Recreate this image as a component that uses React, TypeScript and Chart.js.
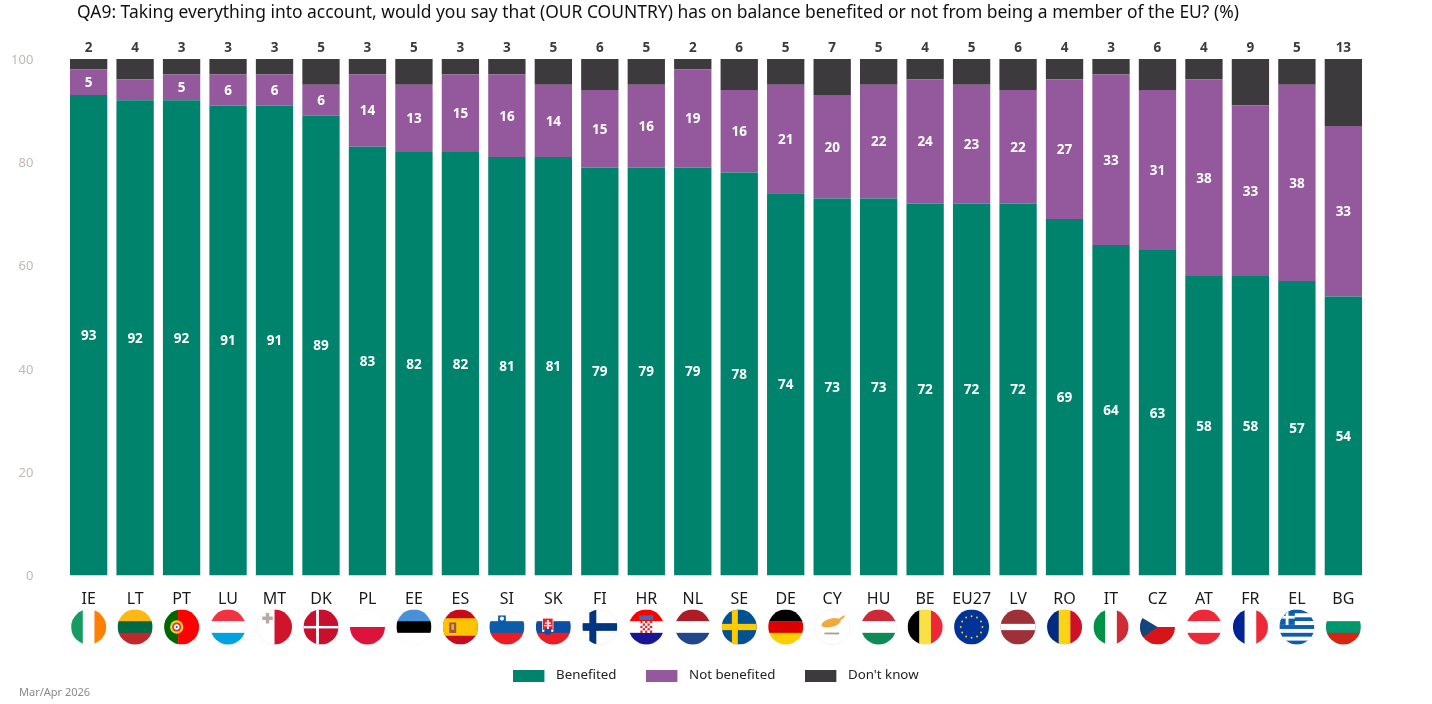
import React, { useEffect, useRef } from "react";
import { Chart, registerables } from "chart.js";

Chart.register(...registerables);

const categories = ["IE","LT","PT","LU","MT","DK","PL","EE","ES","SI","SK","FI","HR","NL","SE","DE","CY","HU","BE","EU27","LV","RO","IT","CZ","AT","FR","EL","BG"];
const benefited = [93,92,92,91,91,89,83,82,82,81,81,79,79,79,78,74,73,73,72,72,72,69,64,63,58,58,57,54];
const notBenefited = [5,4,5,6,6,6,14,13,15,16,14,15,16,19,16,21,20,22,24,23,22,27,33,31,38,33,38,33];
const dontKnow = [2,4,3,3,3,5,3,5,3,3,5,6,5,2,6,5,7,5,4,5,6,4,3,6,4,9,5,13];
const titleText = "QA9: Taking everything into account, would you say that (OUR COUNTRY) has on balance benefited or not from being a member of the EU? (%)";
const footerText = "Mar/Apr 2026";
const FONT = '"Noto Sans", sans-serif';

const hStripes: Record<string, string[]> = {
  LT: ["#fdb913", "#006a44", "#c1272d"], LU: ["#ef3340", "#ffffff", "#00a3e0"], PL: ["#ffffff", "#dc143c"],
  EE: ["#4891d9", "#000000", "#ffffff"], SI: ["#ffffff", "#0b5cab", "#ed1c24"], SK: ["#ffffff", "#0b4ea2", "#ee1c25"],
  HR: ["#ff0000", "#ffffff", "#171796"], NL: ["#ae1c28", "#ffffff", "#21468b"], DE: ["#000000", "#dd0000", "#ffce00"],
  HU: ["#ce2939", "#ffffff", "#0f8a57"], AT: ["#ed2939", "#ffffff", "#ed2939"], BG: ["#ffffff", "#00966e", "#d62612"],
};
const vStripes: Record<string, string[]> = {
  IE: ["#169b62", "#ffffff", "#ff7f00"], BE: ["#000000", "#fae042", "#ed2939"], RO: ["#002b7f", "#fcd116", "#ce1126"],
  IT: ["#009246", "#ffffff", "#ce2b37"], FR: ["#002395", "#ffffff", "#ed2939"],
};

function drawFlag(ctx: CanvasRenderingContext2D, code: string, cx: number, cy: number, r: number) {
  ctx.save();
  ctx.beginPath();
  ctx.arc(cx, cy, r, 0, Math.PI * 2);
  ctx.fillStyle = "#ffffff";
  ctx.fill();
  ctx.strokeStyle = "#f4f4f4";
  ctx.lineWidth = 1;
  ctx.stroke();
  ctx.clip();
  const d = r * 2;
  const x0 = cx - r;
  const y0 = cy - r;
  const rect = (c: string, x: number, y: number, w: number, h: number) => {
    ctx.fillStyle = c;
    ctx.fillRect(x0 + x * d, y0 + y * d, w * d, h * d);
  };
  const disc = (c: string, x: number, y: number, rad: number) => {
    ctx.fillStyle = c;
    ctx.beginPath();
    ctx.arc(x0 + x * d, y0 + y * d, rad * d, 0, Math.PI * 2);
    ctx.fill();
  };
  const hs = hStripes[code];
  const vs = vStripes[code];
  if (hs) {
    const s = code === "PL" ? 2 : 3;
    hs.forEach((c, i) => rect(c, 0, i / s, 1, 1 / s + 0.01));
  }
  if (vs) vs.forEach((c, i) => rect(c, i / 3, 0, 1 / 3 + 0.01, 1));
  switch (code) {
    case "PT":
      rect("#006600", 0, 0, 0.4, 1); rect("#ff0000", 0.4, 0, 0.6, 1);
      disc("#f5d020", 0.36, 0.5, 0.19); disc("#d8343c", 0.36, 0.5, 0.13); disc("#ffffff", 0.36, 0.5, 0.08); disc("#2a4fa0", 0.36, 0.5, 0.03);
      break;
    case "MT":
      rect("#cf142b", 0.5, 0, 0.5, 1);
      rect("#b9a9a9", 0.15, 0.2, 0.3, 0.1); rect("#b9a9a9", 0.25, 0.1, 0.1, 0.3);
      break;
    case "DK":
      rect("#c8102e", 0, 0, 1, 1); rect("#ffffff", 0.36, 0, 0.08, 1); rect("#ffffff", 0, 0.47, 1, 0.07);
      break;
    case "ES":
      rect("#c60b1e", 0, 0, 1, 1); rect("#ffc400", 0, 0.25, 1, 0.5);
      rect("#a8503a", 0.18, 0.37, 0.2, 0.3); rect("#c8b070", 0.24, 0.42, 0.08, 0.16);
      break;
    case "SI":
      rect("#0b5cab", 0.25, 0.17, 0.22, 0.22); disc("#ffffff", 0.36, 0.26, 0.06);
      break;
    case "SK":
      rect("#ffffff", 0.18, 0.24, 0.32, 0.4); rect("#ee1c25", 0.2, 0.26, 0.28, 0.32);
      disc("#0b4ea2", 0.34, 0.62, 0.1);
      rect("#ffffff", 0.32, 0.3, 0.05, 0.26); rect("#ffffff", 0.26, 0.37, 0.17, 0.04); rect("#ffffff", 0.24, 0.44, 0.21, 0.04);
      break;
    case "FI":
      rect("#003580", 0.2, 0, 0.2, 1); rect("#003580", 0, 0.39, 1, 0.22);
      break;
    case "HR":
      for (let i = 0; i < 5; i++) for (let j = 0; j < 5; j++) rect((i + j) % 2 ? "#ffffff" : "#e1232b", 0.33 + i * 0.068, 0.33 + j * 0.068, 0.068, 0.068);
      rect("#3b6fb5", 0.3, 0.17, 0.4, 0.13);
      break;
    case "SE":
      rect("#005293", 0, 0, 1, 1); rect("#fecb00", 0.29, 0, 0.17, 1); rect("#fecb00", 0, 0.41, 1, 0.18);
      break;
    case "CY":
      ctx.fillStyle = "#f2a93b";
      ctx.beginPath();
      ctx.ellipse(x0 + 0.47 * d, y0 + 0.38 * d, 0.28 * d, 0.12 * d, -0.25, 0, Math.PI * 2);
      ctx.fill();
      ctx.beginPath();
      ctx.ellipse(x0 + 0.75 * d, y0 + 0.26 * d, 0.14 * d, 0.03 * d, -0.65, 0, Math.PI * 2);
      ctx.fill();
      rect("#9aa58c", 0.28, 0.66, 0.42, 0.05);
      break;
    case "EU27":
      rect("#003399", 0, 0, 1, 1);
      for (let i = 0; i < 12; i++) disc("#ffcc00", 0.5 + 0.31 * Math.cos((i * Math.PI) / 6), 0.5 + 0.31 * Math.sin((i * Math.PI) / 6), 0.028);
      break;
    case "LV":
      rect("#9e3039", 0, 0, 1, 1); rect("#ffffff", 0, 0.41, 1, 0.18);
      break;
    case "CZ":
      rect("#ffffff", 0, 0, 1, 0.5); rect("#d7141a", 0, 0.5, 1, 0.5);
      ctx.fillStyle = "#11457e";
      ctx.beginPath();
      ctx.moveTo(x0, y0 + 0.2 * d);
      ctx.lineTo(x0 + 0.5 * d, y0 + 0.5 * d);
      ctx.lineTo(x0, y0 + 0.85 * d);
      ctx.closePath();
      ctx.fill();
      break;
    case "EL":
      for (let i = 0; i < 9; i++) rect(i % 2 ? "#ffffff" : "#0d5eaf", 0, i / 9, 1, 1 / 9 + 0.005);
      rect("#0d5eaf", 0, 0, 0.44, 0.44); rect("#ffffff", 0.18, 0, 0.08, 0.44); rect("#ffffff", 0, 0.18, 0.44, 0.08);
      break;
  }
  ctx.restore();
}

const flagsAndLabels = {
  id: "flagsAndLabels",
  afterLayout(chart: any) {
    chart.boxes.forEach((b: any) => {
      if (b.options?.text === titleText) b.left = 77;
      if (b.options?.text === footerText) { b.left = 19; b.top = 686; }
    });
    const legend = chart.legend;
    legend.left = 0;
    legend.right = 1432;
    legend.top += 1.5;
  },
  afterDraw(chart: any) {
    const ctx: CanvasRenderingContext2D = chart.ctx;
    const xs = chart.scales.x;
    categories.forEach((c, i) => drawFlag(ctx, c, xs.getPixelForTick(i), 627, 17.5));

    ctx.save();
    ctx.textAlign = "center";
    ctx.textBaseline = "middle";
    ctx.font = `bold 13.5px ${FONT}`;
    [0, 1].forEach((dsIndex) => {
      const meta = chart.getDatasetMeta(dsIndex);
      const values = chart.data.datasets[dsIndex].data;
      meta.data.forEach((bar: any, i: number) => {
        if (values[i] < 5) return;
        ctx.fillStyle = "#ffffff";
        ctx.fillText(String(values[i]), bar.x, (bar.y + bar.base) / 2 + 1);
      });
    });
    const top = chart.getDatasetMeta(2);
    ctx.fillStyle = "#3c3a3d";
    top.data.forEach((bar: any, i: number) => {
      ctx.fillText(String(dontKnow[i]), bar.x, bar.y - 11);
    });
    ctx.restore();
  },
};

function legendSwatch(color: string) {
  const c = document.createElement("canvas");
  c.width = 36;
  c.height = 12;
  const g = c.getContext("2d")!;
  g.fillStyle = color;
  g.fillRect(0, 0, 31, 12);
  return c;
}

export default function App() {
  const ref = useRef<HTMLCanvasElement>(null);
  useEffect(() => {
    const chart = new Chart(ref.current!, {
      type: "bar",
      data: {
        labels: categories,
        datasets: [
          { label: "Benefited", data: benefited, backgroundColor: "#00836c" },
          { label: "Not benefited", data: notBenefited, backgroundColor: "#93599c" },
          { label: "Don't know", data: dontKnow, backgroundColor: "#3c3a3d" },
        ],
      },
      options: {
        responsive: false,
        animation: false,
        devicePixelRatio: 1,
        layout: { padding: { left: 0, right: 65.4, top: 0, bottom: 0 } },
        datasets: { bar: { categoryPercentage: 0.803, barPercentage: 1 } },
        scales: {
          x: {
            stacked: true,
            grid: { display: false },
            border: { display: false },
            afterFit: (s: any) => { s.height = 62; },
            ticks: { autoSkip: false, maxRotation: 0, padding: 6, color: "#1a1a1a", font: { family: FONT, size: 16 } },
          },
          y: {
            stacked: true,
            min: 0,
            max: 100,
            grid: { display: false },
            border: { display: false },
            afterFit: (s: any) => { s.width = 65.4; },
            ticks: { stepSize: 20, padding: 24, labelOffset: 1, color: "#c4b9b0", font: { family: FONT, size: 13 } },
          },
        },
        plugins: {
          tooltip: { enabled: false },
          title: {
            display: true,
            text: titleText,
            align: "start",
            color: "#111111",
            font: { family: FONT, size: 17.45, weight: "normal" },
            padding: { top: 3, bottom: 35 },
          },
          subtitle: {
            display: true,
            text: footerText,
            position: "bottom",
            align: "start",
            color: "#8a8a8a",
            font: { family: FONT, size: 11 },
            padding: { top: 0, bottom: 0 },
          },
          legend: {
            position: "bottom",
            labels: {
              usePointStyle: true,
              pointStyleWidth: 36,
              boxHeight: 12,
              padding: 30,
              color: "#222222",
              font: { family: FONT, size: 13.3 },
              generateLabels: (c: any) =>
                Chart.defaults.plugins.legend.labels.generateLabels(c).map((l: any) => ({
                  ...l,
                  pointStyle: legendSwatch(l.fillStyle),
                })),
            },
          },
        },
      },
      plugins: [flagsAndLabels],
    } as any);
    return () => chart.destroy();
  }, []);
  return (
    <canvas
      ref={ref}
      width={1432}
      height={704}
      style={{ position: "absolute", left: 0, top: 0, width: 1432, height: 704, display: "block" }}
    />
  );
}
